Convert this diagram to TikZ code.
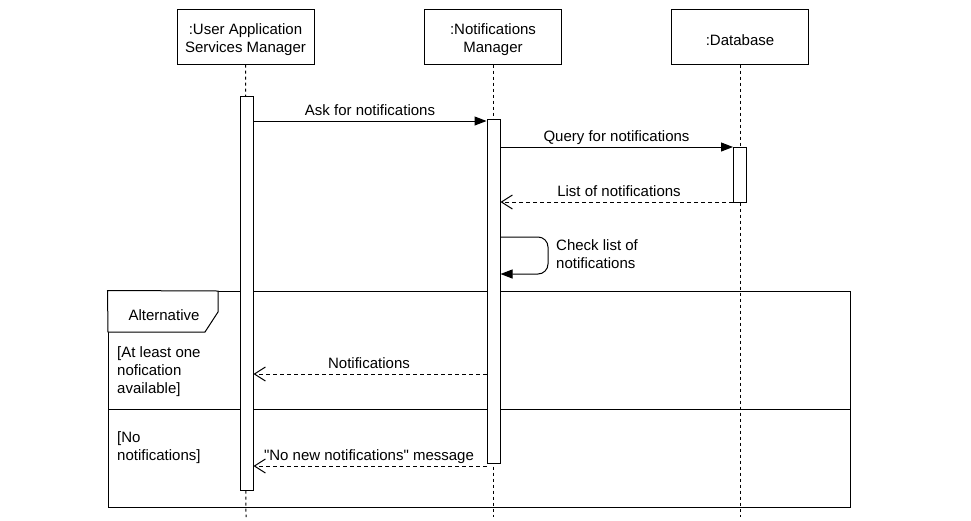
\documentclass[tikz,border=0pt]{standalone}
\usepackage{fontspec}
\setmainfont{Liberation Sans}
\newfontfamily\plainsans{Liberation Sans}
\usetikzlibrary{arrows.meta}
\begin{document}
\begin{tikzpicture}[x=1pt,y=-1pt,
  every node/.style={font=\plainsans\fontsize{15}{18}\selectfont, inner sep=0pt},
  head/.style={draw, line width=1pt, fill=white, minimum width=137pt, minimum height=55pt},
  htext/.style={align=center},
  life/.style={line width=1pt, dash pattern=on 3pt off 3pt},
  act/.style={draw, line width=1pt, fill=white, minimum width=13pt},
  msg/.style={line width=1pt, -{Triangle[length=12pt,width=9pt]}},
  ret/.style={line width=1pt, dash pattern=on 4pt off 3pt, -{Straight Barb[length=11pt,width=14pt,line width=1pt]}},
  lbl/.style={anchor=base},
  guard/.style={align=left, anchor=north west}
]
\useasboundingbox (0,0) rectangle (971,520);
% heads
\node[head] (uh) at (245.5,36.5) {};
\node[head] (nh) at (493,36.5) {};
\node[head] (dh) at (740,36.5) {};
\node[htext] (uht) at (245.5,39.5) {:User Application\\Services Manager};
\node[htext] (nht) at (493,39.5) {:Notifications\\Manager};
\node[htext] (dht) at (740,40) {:Database};
% lifeline ends
\coordinate (ue) at (246,517);
\coordinate (ne) at (493,517);
\coordinate (de) at (740,517);
% frame
\node[draw, line width=1pt, minimum width=742pt, minimum height=216pt] (frame) at (479,399) {};
\draw[life] (uh.south) -- (ue);
\draw[life] (nh.south) -- (ne);
\draw[life] (dh.south) -- (de);
\coordinate (sepL) at (108,409);
\coordinate (sepR) at (850,409);
\draw[line width=1pt] (sepL) -- (sepR);
\coordinate (tabA) at (218,291);
\coordinate (tabB) at (218,312);
\coordinate (tabC) at (205,332);
\coordinate (tabD) at (108,332);
\draw[line width=1pt, fill=white] (frame.north west) -- (tabA) -- (tabB) -- (tabC) -- (tabD) -- cycle;
\node (alt) at (164,315) {Alternative};
\node[guard] (g1) at (117,346) {[At least one\\nofication\\available]};
\node[guard] (g2) at (117,431) {[No\\notifications]};
% activations
\node[act, minimum height=394pt] (ua) at (246.5,293) {};
\node[act, minimum height=344pt] (na) at (493.5,291) {};
\node[act, minimum height=55pt] (da) at (740,174.5) {};
% messages
\draw[msg] (ua.east |- 0,121) -- (na.west |- 0,121);
\node[lbl] (m1) at (370,115.5) {Ask for notifications};
\draw[msg] (na.east |- 0,147) -- (da.west |- 0,147);
\node[lbl] (m2) at (616.5,141.5) {Query for notifications};
\draw[ret] (da.west |- 0,202) -- (na.east |- 0,202);
\node[lbl] (m3) at (619,196.5) {List of notifications};
\draw[msg, rounded corners=10pt] (na.east |- 0,237) -- (548,237) -- (548,274) -- (na.east |- 0,274);
\node[align=left, anchor=north west] (m4) at (556,239.5) {Check list of\\notifications};
\draw[ret] (na.west |- 0,374) -- (ua.east |- 0,374);
\node[lbl] (m5) at (369,368.5) {Notifications};
\draw[ret] (na.west |- 0,466) -- (ua.east |- 0,466);
\node[lbl] (m6) at (369,460.5) {"No new notifications" message};
\end{tikzpicture}
\end{document}
